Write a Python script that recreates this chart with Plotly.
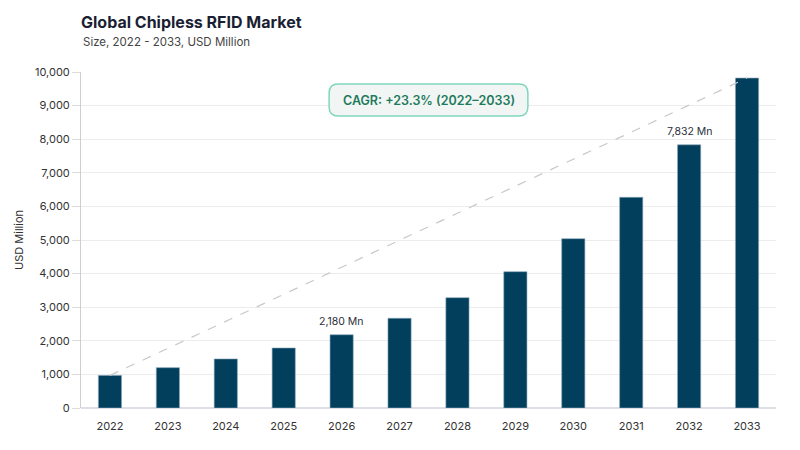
import plotly.graph_objects as go

years = ["2022", "2023", "2024", "2025", "2026", "2027", "2028", "2029", "2030", "2031", "2032", "2033"]
market_size = [970, 1200, 1460, 1786, 2180, 2670, 3283, 4057, 5039, 6270, 7832, 9820]
labelled_years = ["2026", "2032"]
y_ticks = [0, 1000, 2000, 3000, 4000, 5000, 6000, 7000, 8000, 9000, 10000]
cagr_text = "CAGR: +23.3% (2022–2033)"

font = "Inter"
bar_color = "#023f5c"

fig = go.Figure()

fig.add_trace(go.Bar(
    x=years, y=market_size,
    marker=dict(color=bar_color, line=dict(color="#8aa6b8", width=0.6)),
    hoverinfo="x+y",
))

# dashed trend line, first year top to last year top
fig.add_trace(go.Scatter(
    x=[years[0], years[-1]], y=[market_size[0], market_size[-1]],
    mode="lines", line=dict(color="#c8c8c8", width=1.2, dash="dash"),
    hoverinfo="skip",
))

# value labels - category axis wants the index here, "2026" would be read as a number
for yr in labelled_years:
    i = years.index(yr)
    v = market_size[i]
    fig.add_annotation(x=i, y=v, text=f"{v:,} Mn", showarrow=False,
                       yanchor="bottom", yshift=5,
                       font=dict(family=font, size=10.5, color="#2b2f3a"))

# rounded box for the CAGR badge (plot area is 695 x 336 px)
def rounded_box(x0, y0, x1, y1, r=9):
    rx, ry = r / 695, r / 336
    return (f"M {x0+rx},{y0} L {x1-rx},{y0} Q {x1},{y0} {x1},{y0+ry} "
            f"L {x1},{y1-ry} Q {x1},{y1} {x1-rx},{y1} L {x0+rx},{y1} "
            f"Q {x0},{y1} {x0},{y1-ry} L {x0},{y0+ry} Q {x0},{y0} {x0+rx},{y0} Z")

fig.add_shape(type="path", xref="paper", yref="paper",
              path=rounded_box(0.357, 0.869, 0.643, 0.964),
              fillcolor="#f1f6f5", line=dict(color="#80d6bd", width=1.5), layer="above")
fig.add_annotation(xref="paper", yref="paper", x=0.5, y=0.9165, yanchor="middle",
                   text=cagr_text, showarrow=False,
                   font=dict(family=font, size=12.5, color="#1f7a5c", weight=600))

fig.add_annotation(xref="paper", yref="paper", x=0, y=1.089, xanchor="left", yanchor="middle",
                   text="Size, 2022 - 2033, USD Million", showarrow=False,
                   font=dict(family=font, size=11.5, color="#444"))

fig.update_layout(
    width=800, height=450,
    margin=dict(l=81, r=24, t=72, b=42),
    paper_bgcolor="white", plot_bgcolor="white",
    showlegend=False,
    bargap=0.6,
    font=dict(family=font, size=11, color="#333"),
    title=dict(text="<b>Global Chipless RFID Market</b>", x=0, xref="paper", xanchor="left",
               y=0.951, yanchor="middle",
               font=dict(family=font, size=16, color="#1b1f33")),
)

fig.update_xaxes(type="category", showgrid=False, showline=False,
                 ticks="", ticklabelstandoff=10,
                 tickfont=dict(family=font, size=11, color="#333"))
fig.update_yaxes(range=[0, 10000], tickvals=y_ticks, tickformat=",",
                 showgrid=True, gridcolor="#ececec", gridwidth=1,
                 zeroline=True, zerolinecolor="#dedee6", zerolinewidth=2,
                 showline=True, linecolor="#cfcfcf", linewidth=1,
                 ticks="outside", ticklen=8, tickcolor="#dcdcdc",
                 tickfont=dict(family=font, size=11, color="#333"),
                 title=dict(text="USD Million", font=dict(family=font, size=11, color="#333"),
                            standoff=9))

fig.write_html("out.html", config={"displayModeBar": False},
               post_script="document.body.style.margin='0';")
